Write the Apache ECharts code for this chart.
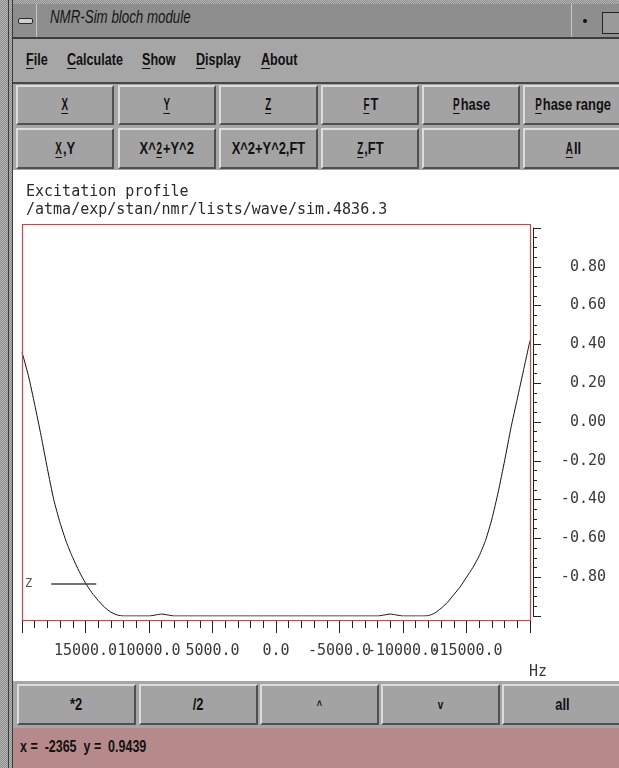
<!DOCTYPE html>
<html>
<head>
<meta charset="utf-8">
<script src="https://cdn.jsdelivr.net/npm/echarts@6/dist/echarts.min.js"></script>
<style>
  html, body { margin: 0; padding: 0; }
  body {
    width: 619px; height: 768px; overflow: hidden; position: relative;
    background: repeating-conic-gradient(#8a8a8a 0 25%, #b8b8b8 0 50%) 0 0 / 2px 2px;
    font-family: "Liberation Sans", Arial, sans-serif;
  }
  .abs { position: absolute; }
  .vline { position: absolute; top: 0; width: 1px; height: 768px; background: #3a3a3a; }
  #titlebar { left: 13px; top: 4px; width: 606px; height: 33px; background: #8e8e8e; border-bottom: 2px solid #3c3c3c; }
  #minbtn { left: 13px; top: 4px; width: 23px; height: 33px; border-right: 1px solid #c8c8c8; }
  #minicon { left: 18px; top: 18px; width: 13px; height: 4px; background: #d0d0d0; border: 1px solid #2a2a2a; border-radius: 2px; }
  #title { left: 50px; top: 7px; font-style: italic; font-size: 18px; color: #151515; transform: scaleX(0.74); transform-origin: left center; white-space: nowrap; }
  #dotbox { left: 571px; top: 4px; width: 27px; height: 33px; border-left: 1px solid #c8c8c8; }
  #dot { left: 583px; top: 19px; width: 4px; height: 4px; background: #111; border-radius: 2px; }
  #maxbox { left: 602px; top: 12px; width: 17px; height: 20px; border: 1px solid #222; border-right: none; background: #9a9a9a; }
  #menubar { left: 13px; top: 39px; width: 606px; height: 43px; background: #a6a6a6; border-bottom: 2px solid #474747; }
  .menu { position: absolute; top: 50px; font-weight: bold; font-size: 17px; color: #111; transform: scaleX(0.74); transform-origin: left center; white-space: nowrap; }
  .ul { text-decoration: underline; text-underline-offset: 3px; }
  #btnarea { left: 13px; top: 84px; width: 606px; height: 86px; background: #a6a6a6; }
  .btn {
    position: absolute; background: #a3a3a3; box-sizing: border-box;
    border-top: 2px solid #dcdcdc; border-left: 2px solid #dcdcdc;
    border-bottom: 2px solid #505050; border-right: 2px solid #505050;
    display: flex; align-items: center; justify-content: center;
  }
  .btn span { display: inline-block; font-weight: bold; font-size: 17px; color: #111; transform: scaleX(0.76); white-space: nowrap; }
  #plotarea { left: 13px; top: 170px; width: 606px; height: 511px; background: #ffffff; }
  #bottombar { left: 13px; top: 681px; width: 606px; height: 47px; background: #a6a6a6; }
  #status { left: 13px; top: 728px; width: 606px; height: 40px; background: #b68a8a; }
  #statustext { left: 20px; top: 738px; font-weight: bold; font-size: 16px; color: #111; transform: scaleX(0.78); transform-origin: left center; white-space: pre; }
  #chart { position: absolute; left: 0; top: 0; width: 619px; height: 768px; z-index: 5; }
</style>
</head>
<body>
  <div class="vline" style="left:8px"></div>
  <div class="vline" style="left:12px"></div>

  <div id="titlebar" class="abs"></div>
  <div id="minbtn" class="abs"></div>
  <div id="minicon" class="abs"></div>
  <div id="title" class="abs">NMR-Sim bloch module</div>
  <div id="dotbox" class="abs"></div>
  <div id="dot" class="abs"></div>
  <div id="maxbox" class="abs"></div>

  <div id="menubar" class="abs"></div>
  <div class="menu" style="left:26px"><span class="ul">F</span>ile</div>
  <div class="menu" style="left:67px"><span class="ul">C</span>alculate</div>
  <div class="menu" style="left:142px"><span class="ul">S</span>how</div>
  <div class="menu" style="left:196px"><span class="ul">D</span>isplay</div>
  <div class="menu" style="left:261px"><span class="ul">A</span>bout</div>

  <div id="btnarea" class="abs"></div>
  <div class="btn" style="left:16px;top:85px;width:98px;height:40px"><span><span class="ul">X</span></span></div>
  <div class="btn" style="left:118px;top:85px;width:98px;height:40px"><span><span class="ul">Y</span></span></div>
  <div class="btn" style="left:219px;top:85px;width:99px;height:40px"><span><span class="ul">Z</span></span></div>
  <div class="btn" style="left:321px;top:85px;width:98px;height:40px"><span><span class="ul">F</span>T</span></div>
  <div class="btn" style="left:422px;top:85px;width:98px;height:40px"><span><span class="ul">P</span>hase</span></div>
  <div class="btn" style="left:523px;top:85px;width:99px;height:40px"><span><span class="ul">P</span>hase range</span></div>

  <div class="btn" style="left:16px;top:128px;width:98px;height:41px"><span><span class="ul">X</span>,Y</span></div>
  <div class="btn" style="left:118px;top:128px;width:98px;height:41px"><span>X^<span class="ul">2</span>+Y^2</span></div>
  <div class="btn" style="left:219px;top:128px;width:99px;height:41px"><span>X^2+Y^2,FT</span></div>
  <div class="btn" style="left:321px;top:128px;width:98px;height:41px"><span><span class="ul">Z</span>,FT</span></div>
  <div class="btn" style="left:422px;top:128px;width:98px;height:41px"><span></span></div>
  <div class="btn" style="left:523px;top:128px;width:99px;height:41px"><span><span class="ul">A</span>ll</span></div>

  <div id="plotarea" class="abs"></div>

  <div id="bottombar" class="abs"></div>
  <div class="btn" style="left:17px;top:684px;width:119px;height:41px"><span>*2</span></div>
  <div class="btn" style="left:139px;top:684px;width:119px;height:41px"><span>/2</span></div>
  <div class="btn" style="left:260px;top:684px;width:119px;height:41px"><span style="font-size:12px">^</span></div>
  <div class="btn" style="left:381px;top:684px;width:119px;height:41px"><span style="font-size:13px">v</span></div>
  <div class="btn" style="left:502px;top:684px;width:120px;height:41px"><span>all</span></div>

  <div id="status" class="abs"></div>
  <div id="statustext" class="abs">x =  -2365  y =  0.9439</div>

  <div id="chart"></div>

<script>
// Frequency offsets (Hz) and the resulting Z magnetisation of the excitation profile
const freqHz = [
  20000, 19500, 19000, 18500, 18000, 17500, 17000, 16500, 16000, 15500,
  15000, 14500, 14000, 13500, 13000, 12500, 12000, 11000, 10000, 9500,
  9000, 8500, 8000, 6000, 4000, 2000, 0, -2000, -4000, -6000,
  -8000, -8500, -9000, -9500, -10000, -11000, -11500, -12000, -12500, -13000,
  -13500, -14000, -14500, -15000, -15500, -16000, -16500, -17000, -17500, -18000,
  -18500, -19000, -19500, -20000
];
const zMag = [
  0.36, 0.24, 0.09, -0.07, -0.24, -0.40, -0.52, -0.62, -0.70, -0.77,
  -0.83, -0.88, -0.92, -0.955, -0.98, -0.995, -1.0, -1.0, -1.0, -0.995,
  -0.99, -0.995, -1.0, -1.0, -1.0, -1.0, -1.0, -1.0, -1.0, -1.0,
  -1.0, -0.995, -0.99, -0.995, -1.0, -1.0, -1.0, -0.998, -0.985, -0.96,
  -0.93, -0.89, -0.85, -0.80, -0.75, -0.69, -0.61, -0.50, -0.36, -0.20,
  -0.03, 0.12, 0.27, 0.42
];
const seriesName = 'Z';
const plotTitle = 'Excitation profile';
const plotFile = '/atma/exp/stan/nmr/lists/wave/sim.4836.3';
const xUnit = 'Hz';

const mono = '"DejaVu Sans Mono", "Liberation Mono", monospace';
const textColor = '#3a3a3a';

const chart = echarts.init(document.getElementById('chart'), null, { renderer: 'canvas' });

chart.setOption({
  animation: false,
  title: {
    text: plotTitle + '\n' + plotFile,
    left: 21, top: 178,
    textStyle: { fontFamily: mono, fontSize: 15, fontWeight: 'normal', color: '#2a2a2a', lineHeight: 18 }
  },
  legend: {
    data: [{ name: seriesName, itemStyle: { color: '#444' } }],
    left: 20, top: 573,
    align: 'right',
    icon: 'rect',
    itemWidth: 45, itemHeight: 1.5,
    textStyle: { fontFamily: mono, fontSize: 12, color: '#555', padding: [0, 14, 12, 0] }
  },
  grid: { left: 22, right: 89, top: 228, bottom: 152, containLabel: false },
  xAxis: {
    type: 'value',
    min: -20000, max: 20000, interval: 5000,
    inverse: true,
    position: 'bottom',
    offset: 5,
    splitLine: { show: false },
    axisLine: { show: false, onZero: false },
    axisTick: { show: true, length: 12, lineStyle: { color: '#222', width: 1 } },
    minorTick: { show: true, splitNumber: 5, length: 7, lineStyle: { color: '#222', width: 1 } },
    axisLabel: {
      margin: 23,
      showMinLabel: false, showMaxLabel: false,
      fontFamily: mono, fontSize: 15, color: textColor,
      formatter: v => v.toFixed(1)
    }
  },
  yAxis: {
    type: 'value',
    position: 'right',
    min: -1, max: 1, interval: 0.2,
    offset: 3,
    splitLine: { show: false },
    axisLine: { show: true, onZero: false, lineStyle: { color: '#222', width: 1 } },
    axisTick: { show: true, inside: false, length: 8, lineStyle: { color: '#222', width: 1 } },
    minorTick: { show: true, splitNumber: 4, length: 4, lineStyle: { color: '#222', width: 1 } },
    axisLabel: {
      margin: 73, align: 'right',
      showMinLabel: false, showMaxLabel: false,
      fontFamily: mono, fontSize: 15, color: textColor,
      formatter: v => (Math.abs(v) < 1e-9 ? 0 : v).toFixed(2)
    }
  },
  graphic: [
    {
      type: 'rect', silent: true, z: 10,
      shape: { x: 22.5, y: 224.5, width: 508, height: 396 },
      style: { fill: 'none', stroke: '#c4484c', lineWidth: 1.2 }
    },
    {
      type: 'text', left: 529, top: 665, silent: true,
      style: { text: xUnit, font: '15px ' + mono, fill: textColor }
    }
  ],
  series: [{
    name: seriesName,
    type: 'line',
    data: freqHz.map((f, i) => [f, zMag[i]]),
    showSymbol: false,
    smooth: 0.2,
    lineStyle: { color: '#111', width: 1 },
    itemStyle: { color: '#111' }
  }]
});
</script>
</body>
</html>
